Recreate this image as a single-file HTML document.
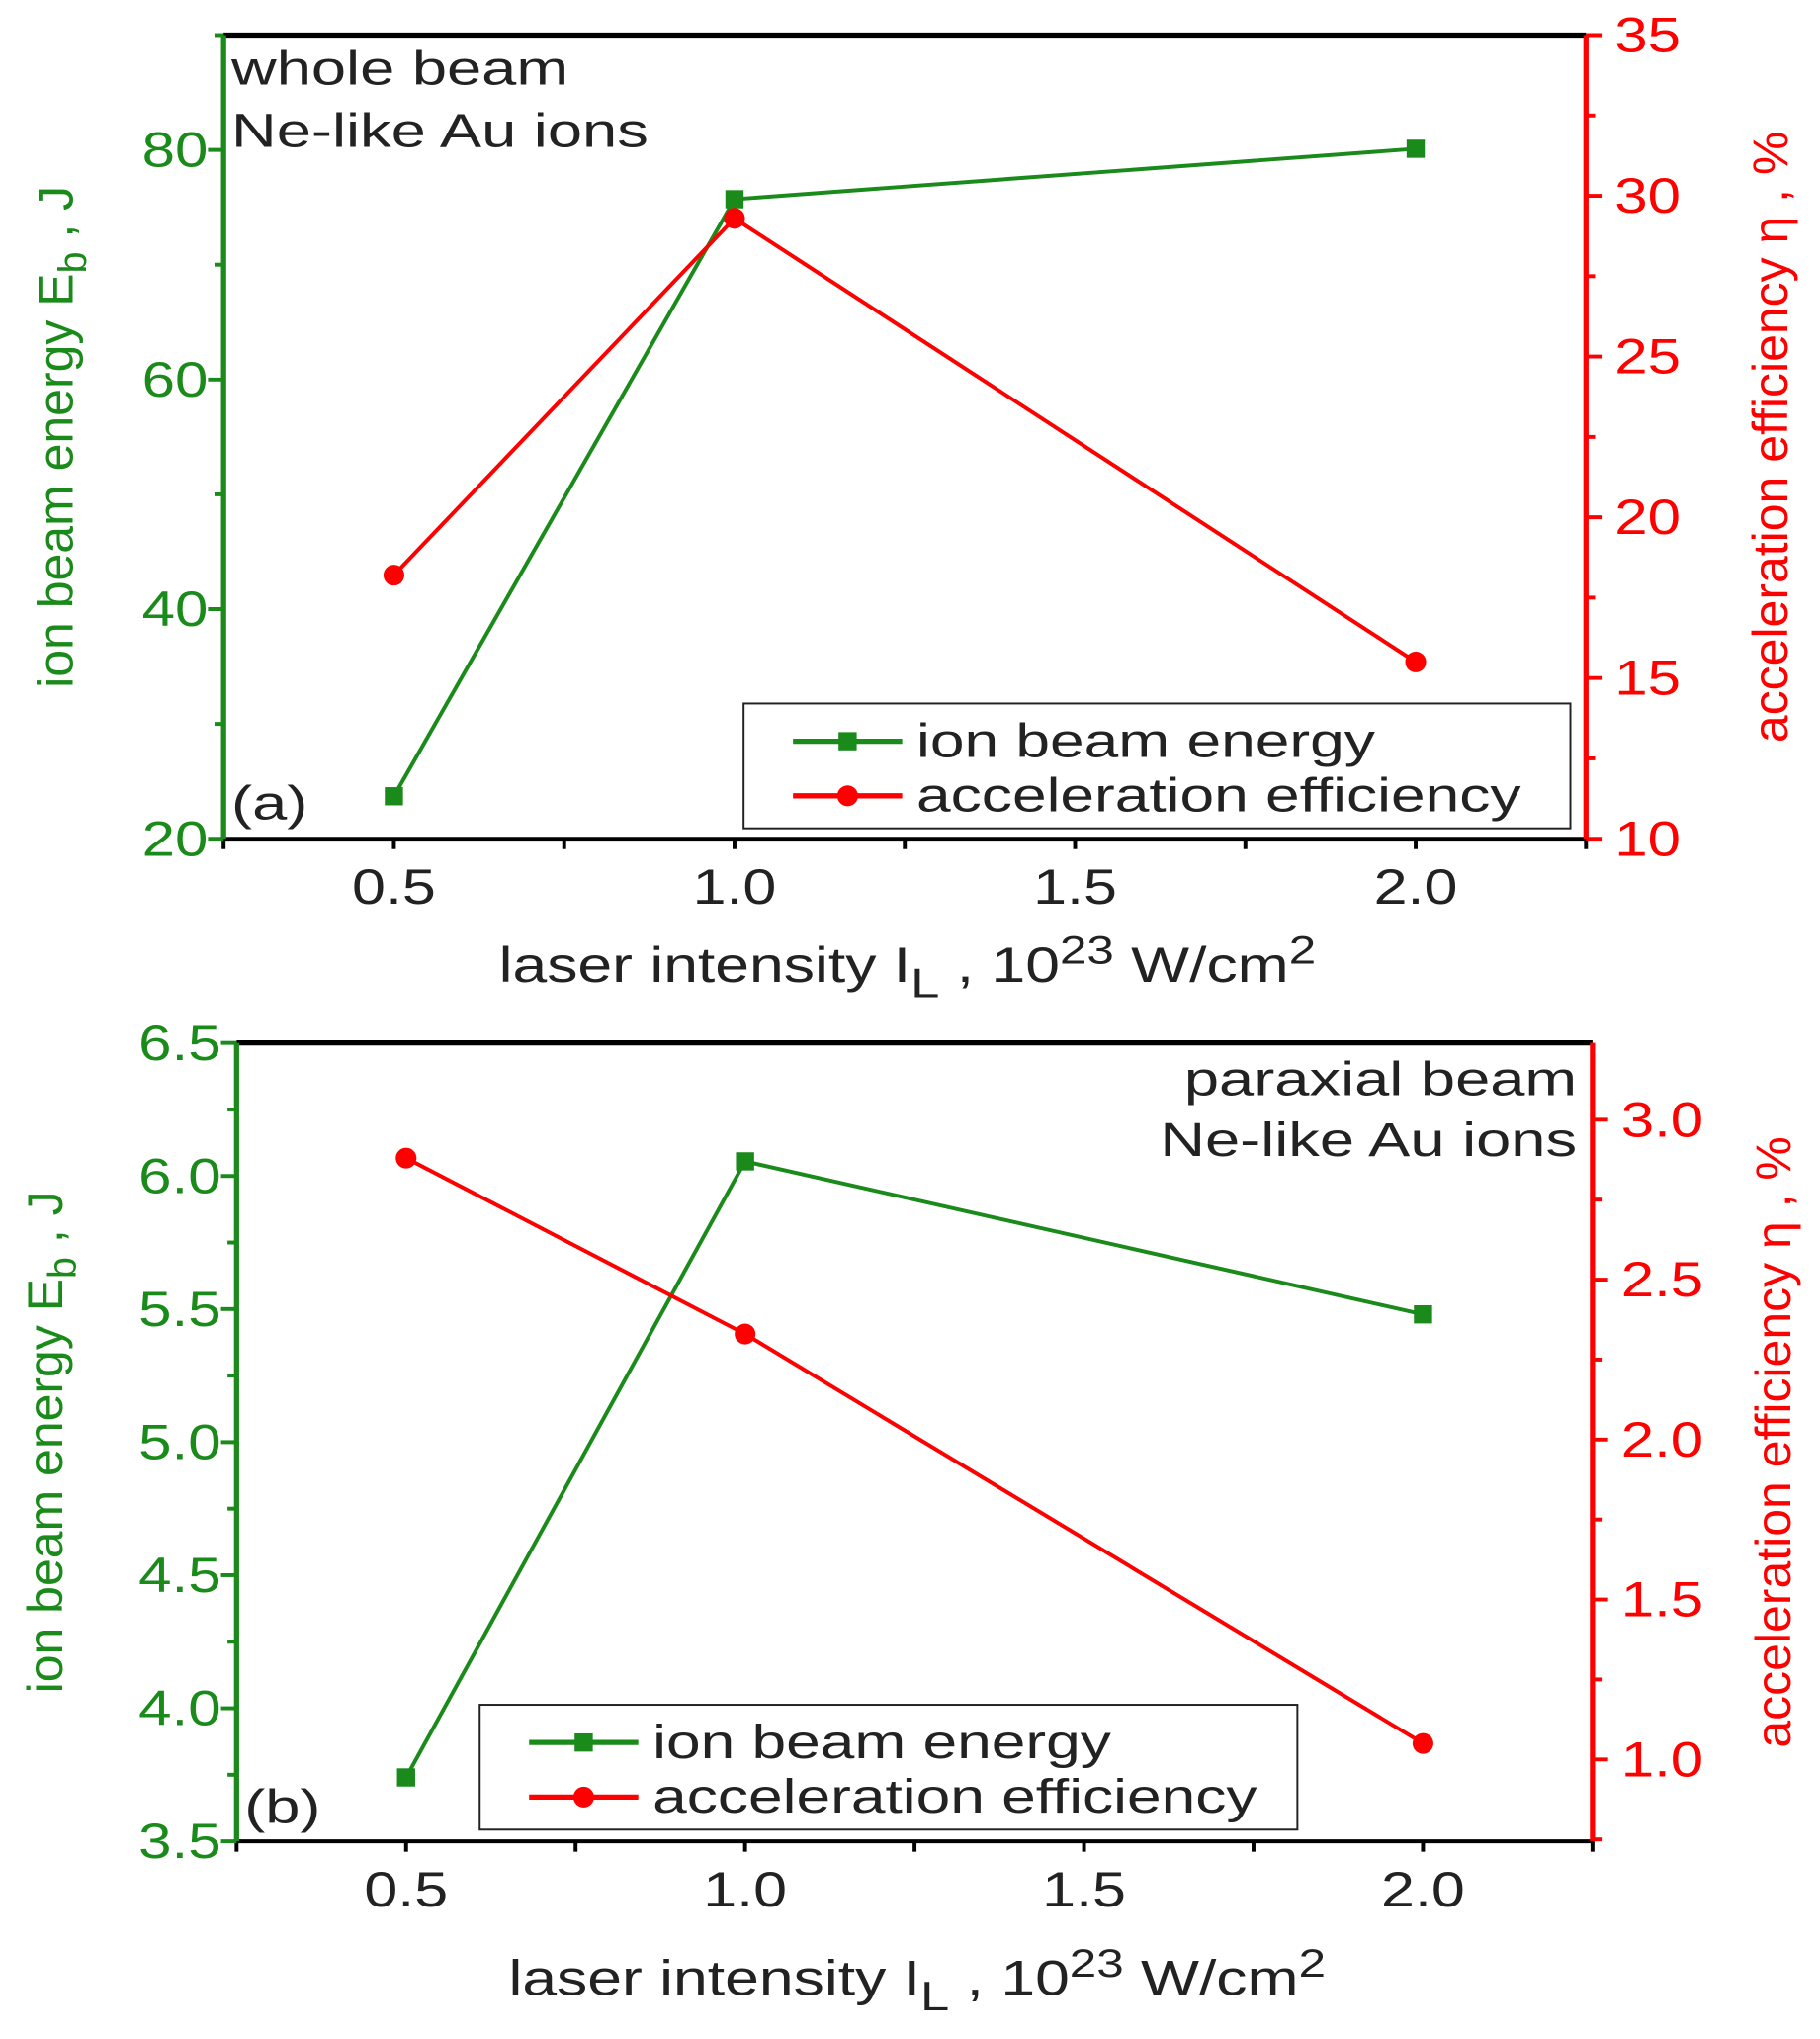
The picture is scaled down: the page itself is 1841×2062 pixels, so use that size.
<!DOCTYPE html>
<html><head><meta charset="utf-8"><style>
html,body{margin:0;padding:0;background:#fff}
svg{display:block}
text{font-family:"Liberation Sans",sans-serif}
</style></head><body>
<svg id="fig" width="1841" height="2062" viewBox="0 0 1400 1568" preserveAspectRatio="none" xmlns="http://www.w3.org/2000/svg"></svg>
<script>
const xCats = [0.5, 1.0, 2.0];
const energyA = [23.7, 75.7, 80.1];
const effA = [18.2, 29.3, 15.5];
const energyB = [3.74, 6.055, 5.48];
const effB = [2.88, 2.33, 1.05];
const xTicks = ["0.5","1.0","1.5","2.0"];
const leftTicksA = ["20","40","60","80"];
const rightTicksA = ["10","15","20","25","30","35"];
const leftTicksB = ["3.5","4.0","4.5","5.0","5.5","6.0","6.5"];
const rightTicksB = ["1.0","1.5","2.0","2.5","3.0"];

const NS="http://www.w3.org/2000/svg";
const svg=document.getElementById('fig');
const G='#1a8a1a', R='#ff0000';
function mk(tag,attrs,parent){const e=document.createElementNS(NS,tag);for(const k in attrs)e.setAttribute(k,attrs[k]);(parent||svg).appendChild(e);return e;}
function txt(s,attrs,parent){const e=mk('text',attrs,parent);e.textContent=s;return e;}
function widen(t,f){const w=t.getComputedTextLength();t.setAttribute('textLength',w*f);t.setAttribute('lengthAdjust','spacingAndGlyphs');}

function panel(cfg){
  const g=mk('g',{});
  
  
  const {L,Rx,T,B}=cfg;
  const sx=v=>L+(v-0.25)/(2.25-0.25)*(Rx-L);
  const syL=v=>B-(v-cfg.lmin)/(cfg.lmax-cfg.lmin)*(B-T);
  const syR=v=>B-(v-cfg.rmin)/(cfg.rmax-cfg.rmin)*(B-T);
  const top=mk('line',{x1:L,y1:T,x2:Rx,y2:T,stroke:'#000','stroke-width':4},g);
  
  const bot=mk('line',{x1:L,y1:B,x2:Rx,y2:B,stroke:'#000','stroke-width':3},g);
  
  const la=mk('line',{x1:L,y1:T,x2:L,y2:B,stroke:G,'stroke-width':4},g);
  
  const ra=mk('line',{x1:Rx,y1:T,x2:Rx,y2:B,stroke:R,'stroke-width':4},g);
  
  for(let v=0.25;v<=2.2501;v+=0.25){
    const x=sx(v);
    mk('line',{x1:x,y1:B,x2:x,y2:B+8,stroke:'#000','stroke-width':3},g);
  }
  xTicks.forEach(s=>{
    const t=txt(s,{x:sx(parseFloat(s)),y:B+50,'font-size':38,'text-anchor':'middle',fill:'#222'},g);
    
    widen(t,1.22);
  });
  const lt=cfg.lticks;
  const lstep=parseFloat(lt[1])-parseFloat(lt[0]);
  for(let v=cfg.lmin;v<=cfg.lmax+1e-6;v+=lstep/2){
    const maj=Math.abs(((v-parseFloat(lt[0]))/lstep)-Math.round((v-parseFloat(lt[0]))/lstep))<1e-6;
    mk('line',{x1:L,y1:syL(v),x2:L-(maj?12:7),y2:syL(v),stroke:G,'stroke-width':3},g);
  }
  lt.forEach(s=>{
    const t=txt(s,{x:L-12,y:syL(parseFloat(s))+13,'font-size':38,'text-anchor':'end',fill:G},g);
    
    widen(t,1.2);
  });
  const rt=cfg.rticks;
  const rstep=parseFloat(rt[1])-parseFloat(rt[0]);
  for(let v=parseFloat(rt[0])-rstep*Math.floor((parseFloat(rt[0])-cfg.rmin)/(rstep/2))/2;v<=cfg.rmax+1e-6;v+=rstep/2){
    if(v<cfg.rmin-1e-6)continue;
    const k=(v-parseFloat(rt[0]))/rstep;
    const maj=Math.abs(k-Math.round(k))<1e-6;
    mk('line',{x1:Rx,y1:syR(v),x2:Rx+(maj?12:7),y2:syR(v),stroke:R,'stroke-width':3},g);
  }
  rt.forEach(s=>{
    const t=txt(s,{x:Rx+22,y:syR(parseFloat(s))+13,'font-size':38,fill:R},g);
    
    widen(t,1.2);
  });
  const lx=txt('',{transform:`translate(${cfg.lTitleX},${(T+B)/2}) rotate(-90)`,'font-size':38,'text-anchor':'middle',fill:G},g);
  
  lx.innerHTML='ion beam energy E<tspan font-size="30" dy="10">b</tspan><tspan dy="-10"> , J</tspan>';
  const rx=txt('',{transform:`translate(${cfg.rTitleX},${(T+B)/2}) rotate(-90)`,'font-size':38,'text-anchor':'middle',fill:R},g);
  
  rx.textContent='acceleration efficiency η , %';
  const xt=txt('',{x:(L+Rx)/2+2,y:B+cfg.xTitleDy,'font-size':38,'text-anchor':'middle',fill:'#222'},g);
  
  xt.innerHTML='laser intensity I<tspan font-size="32" dy="12">L</tspan><tspan dy="-12"> , 10</tspan><tspan font-size="30" dy="-14">23</tspan><tspan dy="14"> W/cm</tspan><tspan font-size="30" dy="-14">2</tspan>';
  widen(xt,1.25);
  const pe=xCats.map((c,i)=>sx(c)+','+syL(cfg.energy[i])).join(' ');
  const pr=xCats.map((c,i)=>sx(c)+','+syR(cfg.eff[i])).join(' ');
  const l1=mk('polyline',{points:pe,fill:'none',stroke:G,'stroke-width':3},g);
  
  const l2=mk('polyline',{points:pr,fill:'none',stroke:R,'stroke-width':3},g);
  
  xCats.forEach((c,i)=>{
    const s=mk('rect',{x:sx(c)-7,y:syL(cfg.energy[i])-7,width:14,height:14,fill:G},g);
    
    const p=mk('circle',{cx:sx(c),cy:syR(cfg.eff[i]),r:8,fill:R},g);
    
  });
  cfg.notes.forEach(n=>{
    const t=txt(n.s,{x:n.x,y:n.y,'font-size':37,'text-anchor':n.a||'start',fill:'#222'},g);
    
    widen(t,1.3);
  });
  const lg=mk('g',{},g);
  
  const Lg=cfg.legend;
  mk('rect',{x:Lg.x,y:Lg.y,width:Lg.w,height:Lg.h,fill:'#fff',stroke:'#222','stroke-width':1.5},lg);
  const e1=mk('g',{},lg);
  mk('line',{x1:Lg.x+38,y1:Lg.y+29,x2:Lg.x+122,y2:Lg.y+29,stroke:G,'stroke-width':4},e1);
  mk('rect',{x:Lg.x+73,y:Lg.y+22,width:14,height:14,fill:G},e1);
  const t1=txt('ion beam energy',{x:Lg.x+133,y:Lg.y+41,'font-size':37,fill:'#222'},e1);
  widen(t1,1.28);
  const e2=mk('g',{},lg);
  mk('line',{x1:Lg.x+38,y1:Lg.y+71,x2:Lg.x+122,y2:Lg.y+71,stroke:R,'stroke-width':4},e2);
  mk('circle',{cx:Lg.x+80,cy:Lg.y+71,r:8,fill:R},e2);
  const t2=txt('acceleration efficiency',{x:Lg.x+133,y:Lg.y+83,'font-size':37,fill:'#222'},e2);
  widen(t2,1.28);
}

panel({name:'panel-a',L:172,Rx:1220,T:27,B:645,lmin:20,lmax:90,rmin:10,rmax:35,
  lticks:leftTicksA,rticks:rightTicksA,energy:energyA,eff:effA,lTitleX:56,rTitleX:1375,xTitleDy:110,
  notes:[{s:'whole beam',x:178,y:65},{s:'Ne-like Au ions',x:178,y:113},{s:'(a)',x:178,y:630}],
  legend:{x:572,y:541,w:636,h:96}});
panel({name:'panel-b',L:182,Rx:1225,T:802,B:1416,lmin:3.5,lmax:6.5,rmin:0.744,rmax:3.24,
  lticks:leftTicksB,rticks:rightTicksB,energy:energyB,eff:effB,lTitleX:48,rTitleX:1377,xTitleDy:118,
  notes:[{s:'paraxial beam',x:1213,y:842,a:'end'},{s:'Ne-like Au ions',x:1213,y:889,a:'end'},{s:'(b)',x:188,y:1402}],
  legend:{x:369,y:1311,w:629,h:96}});
</script>
</body></html>
